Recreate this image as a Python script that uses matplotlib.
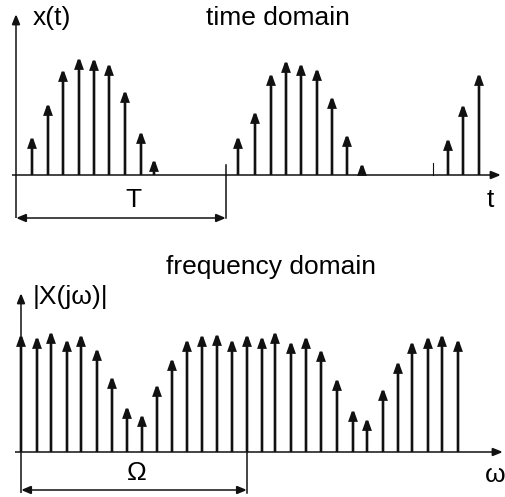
import matplotlib
matplotlib.use("Agg")
import matplotlib.pyplot as plt
from matplotlib.patches import FancyArrowPatch

# sampled signal in the time domain (t in px-like units from the origin)
t_samples = [16, 32, 47, 63, 78, 93, 109, 125, 138,
             222, 239, 255, 270, 285, 301, 316, 331, 346,
             432, 447, 463]
x_values = [40, 73, 107, 119, 118, 113, 86, 45, 17,
            40, 65, 103, 116, 113, 108, 80, 42, 13,
            38, 72, 103]
period_T = 210
mark_2T = 417

# periodic spectrum in the frequency domain
w_samples = [0, 16, 30, 46, 60, 76, 91, 106, 121, 136, 151, 166, 181, 196, 211,
             226, 241, 254, 270, 285, 300, 316, 332, 346, 362, 377, 391, 407, 421, 437]
X_values = [119, 117, 122, 114, 119, 105, 77, 47, 39, 69, 95, 114, 119, 120, 114,
            119, 117, 122, 112, 117, 104, 75, 44, 35, 65, 92, 112, 117, 119, 114]
period_W = 226

plt.rcParams['font.family'] = ['Liberation Sans', 'DejaVu Sans']
FS = 19
COL = '#111111'


def arrow(ax, x0, y0, x1, y1, lw, style='-|>', hl=0.62, hw=0.22):
    a = FancyArrowPatch((x0, y0), (x1, y1),
                        arrowstyle=f"{style},head_length={hl},head_width={hw}",
                        mutation_scale=10, lw=lw, color=COL,
                        shrinkA=0, shrinkB=0, joinstyle='miter', capstyle='butt')
    ax.add_patch(a)


fig = plt.figure(figsize=(5.06, 4.97), dpi=100)

# ---- time domain ----
ax1 = fig.add_axes([0, 267 / 497, 1, 230 / 497])
ax1.set_xlim(-16, 490)
ax1.set_ylim(-55, 175)
ax1.axis('off')

arrow(ax1, -4, 0, 485, 0, 1.1, hw=0.25)
arrow(ax1, 0, -43, 0, 161, 1.1, hw=0.25)
for t, v in zip(t_samples, x_values):
    arrow(ax1, t, 0, t, v, 1.9)
ax1.plot([period_T, period_T], [-43, 10], color=COL, lw=1.1)
ax1.plot([mark_2T, mark_2T], [0, 12], color=COL, lw=0.8)
arrow(ax1, 0, -43, period_T, -43, 1.1, style='<|-|>', hl=0.6, hw=0.25)

ax1.text(17, 157, 'x(t)', fontsize=FS, ha='left', va='center')
ax1.text(262, 157, 'time domain', fontsize=FS, ha='center', va='center')
ax1.text(117, -25, 'T', fontsize=FS, ha='center', va='center')
ax1.text(474, -25, 't', fontsize=FS, ha='center', va='center')

# ---- frequency domain ----
ax2 = fig.add_axes([0, 0, 1, 257 / 497])
ax2.set_xlim(-21, 485)
ax2.set_ylim(-45, 212)
ax2.axis('off')

arrow(ax2, -6, 0, 482, 0, 1.1, hw=0.25)
arrow(ax2, 0, -41, 0, 159, 1.1, hw=0.25)
for w, v in zip(w_samples, X_values):
    arrow(ax2, w, 0, w, v, 1.9)
ax2.plot([period_W, period_W], [-41, 0], color=COL, lw=1.1)
arrow(ax2, 0, -38, period_W, -38, 1.1, style='<|-|>', hl=0.6, hw=0.25)

ax2.text(250, 185, 'frequency domain', fontsize=FS, ha='center', va='center')
ax2.text(12, 155, '|X(jω)|', fontsize=FS, ha='left', va='center')
ax2.text(116, -21, 'Ω', fontsize=FS, ha='center', va='center')
ax2.text(474, -23, 'ω', fontsize=FS, ha='center', va='center')

fig.savefig('out.png', dpi=100, facecolor='white')
